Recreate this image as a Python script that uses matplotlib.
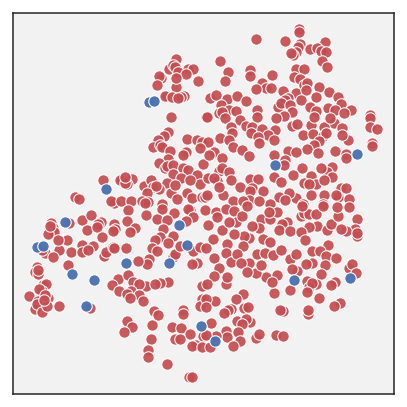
import matplotlib
matplotlib.use("Agg")
import matplotlib.pyplot as plt

red_points = [
(176,59),(188,69),(193,69),(169,69),(173,65),(175,67),(178,72),(186,74),(198,81),(161,78),(159,76),(157,85),(176,87),(176,78),
(167,96),(165,96),(172,97),(184,96),(181,97),(178,98),(171,117),(206,117),(168,132),(164,136),(158,140),(153,147),(160,145),(162,147),
(170,151),(187,139),(197,140),(202,142),(208,142),(200,148),(184,153),(186,152),(183,155),(168,159),(159,163),(165,168),(167,166),(173,165),
(183,168),(188,170),(203,164),(197,175),(173,174),(181,178),(200,184),(167,183),(159,189),(144,186),(151,180),(153,187),(156,186),
(147,193),(171,193),(187,193),(192,198),(175,185),(190,180),(202,197),(205,197),(103,180),(122,180),(120,180),(132,179),(127,184),(125,183),(125,177),
(75,197),(79,199),(114,203),(111,201),(121,201),(131,201),(142,201),(148,202),(145,203),(162,204),(177,199),
(299,29),(299,32),(256,39),(285,41),(325,42),(300,44),(298,47),(310,49),(317,48),(321,51),(326,52),(296,52),(293,55),(291,53),(322,61),(327,67),
(220,61),(228,72),(225,81),(250,70),(250,76),(272,75),(296,69),(304,69),(294,77),(300,79),(304,85),(307,83),(262,83),(266,88),(271,88),
(256,89),(283,91),(319,87),(329,92),(338,97),(296,93),(306,90),(316,97),(288,98),(285,100),(301,100),(210,98),(216,95),(227,99),(237,96),
(246,101),(221,105),(229,110),(219,113),(222,112),(236,111),(225,118),(207,117),(257,110),(257,117),(278,107),(281,103),(290,105),(292,112),
(284,116),(276,118),(310,107),(316,111),(328,108),(341,104),(335,110),(351,110),(344,113),(240,120),(246,126),(231,127),(252,127),
(251,133),(232,133),(262,129),(275,130),(268,135),(258,137),(274,140),(259,143),(292,126),(297,124),(311,125),(314,117),(334,123),
(324,127),(330,118),(342,128),(303,135),(313,134),(323,136),(326,133),(319,141),(314,145),(307,149),(318,153),(335,151),(348,140),(346,154),(346,158),
(342,135),(370,115),(370,118),(370,127),(377,129),(372,143),(372,146),(274,155),(288,151),(296,152),(285,160),(284,165),(302,168),(293,175),(274,177),
(281,182),(332,167),(327,172),(332,177),(321,168),(311,176),(316,184),(304,183),(309,184),(324,180),(341,188),(346,188),(338,197),(336,195),
(349,199),(324,195),(311,195),(323,204),(296,198),(289,193),(279,197),(285,200),(270,204),(303,204),
(220,138),(229,140),(233,147),(242,150),(249,156),(214,152),(222,158),(209,155),(219,171),(222,168),(229,172),(208,178),(217,181),(214,178),(231,180),
(223,195),(240,187),(250,179),(258,179),(252,188),(250,191),(263,191),(249,200),(233,201),(243,201),(259,201),(207,195),(219,187),
(128,210),(146,215),(162,209),(174,213),(190,210),(205,210),(188,209),(193,217),(186,221),(157,219),(167,220),(82,220),(91,215),(101,222),(98,224),
(87,230),(97,227),(114,224),(115,229),(113,231),(127,221),(135,228),(130,232),(69,223),(51,223),(53,228),(54,232),(48,234),(50,226),(102,237),
(163,229),(160,237),(173,236),(168,243),(155,240),(67,240),(59,250),(58,240),(45,253),(42,250),(53,257),(71,252),(82,245),(93,246),(82,252),
(88,250),(104,256),(106,252),(113,247),(114,248),(126,248),(152,248),(157,251),(149,259),(147,264),(138,261),(173,257),(175,254),(180,246),(193,251),
(200,247),(197,263),(192,264),(68,265),(37,267),(35,272),(38,274),(38,270),(43,285),(46,284),(42,291),(39,289),(29,296),(38,301),(48,298),(45,295),(35,309),(37,304),(42,312),(47,306),(44,300),
(59,306),(90,308),(118,279),(128,275),(112,285),(119,291),(133,282),(146,286),(139,284),(131,291),(127,294),(139,295),(130,298),(143,301),
(168,282),(160,283),(155,284),(202,286),(202,299),(200,306),(154,311),(158,315),(152,325),(183,310),(183,314),(127,321),(132,327),
(124,332),(151,339),(148,350),(148,357),(167,364),(189,377),(192,377),(172,327),(181,328),(190,334),(175,339),(180,339),(196,345),
(192,346),(203,336),(202,347),
(216,212),(226,209),(234,211),(208,225),(217,217),(222,230),(236,222),(229,222),(242,216),(247,206),(261,219),(259,228),(252,226),
(270,219),(277,212),(269,212),(287,222),(282,224),(279,230),(290,231),(301,216),(304,213),(309,214),(316,214),(317,226),(309,227),(301,232),(305,240),
(327,230),(331,224),(338,216),(337,207),(349,207),(357,219),(355,229),(346,231),(341,229),(357,236),(357,233),(323,206),(302,206),(249,238),
(263,239),(270,242),(244,236),(234,234),(213,239),(227,244),(243,246),(206,248),(226,253),(214,258),(231,262),(237,254),(249,263),
(241,263),(257,254),(265,253),(273,255),(281,250),(290,259),(296,254),(312,251),(328,245),(320,251),(326,256),(336,258),(325,265),
(312,263),(306,264),(297,271),(292,269),(321,274),(349,268),(352,264),(356,273),(290,290),(307,281),(316,284),(309,287),(312,283),(307,292),
(319,298),(335,282),(331,285),(340,303),(334,306),(283,311),(280,310),(308,314),(308,310),(274,293),(266,277),(277,275),(272,282),
(256,273),(247,272),(261,265),(226,284),(227,277),(219,268),(214,276),(207,284),(243,294),(236,299),(215,301),(206,299),(206,307),
(231,309),(228,310),(224,313),(244,308),(248,307),(237,321),(250,322),(246,319),(242,324),(238,332),(226,331),(227,337),(240,341),(233,346),
(211,323),(216,336),(206,335),(210,347),(256,338),(259,334),(276,335),(283,336),
]
blue_points = [
(149,102),(154,101),(106,189),(65,222),(179,225),(37,247),(43,246),(187,245),(126,263),(169,263),
(72,274),(94,280),(86,306),(201,326),(215,341),(275,165),(357,154),(294,280),(350,278),
]

red_x = [p[0] for p in red_points]
red_y = [p[1] for p in red_points]
blue_x = [p[0] for p in blue_points]
blue_y = [p[1] for p in blue_points]

fig = plt.figure(figsize=(4.07, 4.07), dpi=100, facecolor="white")
ax = fig.add_axes([12.5/407, 1 - 394/407, 381/407, 381.5/407])
ax.set_facecolor("#f2f2f3")
ax.scatter(red_x, red_y, s=68, c="#C44E52", edgecolors="white", linewidths=0.8, alpha=0.93, zorder=2)
ax.scatter(blue_x, blue_y, s=68, c="#4C72B0", edgecolors="white", linewidths=0.8, alpha=0.97, zorder=3)
ax.set_xlim(12.5, 393.5)
ax.set_ylim(394, 12.5)
ax.set_xticks([])
ax.set_yticks([])
for s in ax.spines.values():
    s.set_color("#262626")
    s.set_linewidth(1.1)
fig.savefig("out.png", dpi=100)
